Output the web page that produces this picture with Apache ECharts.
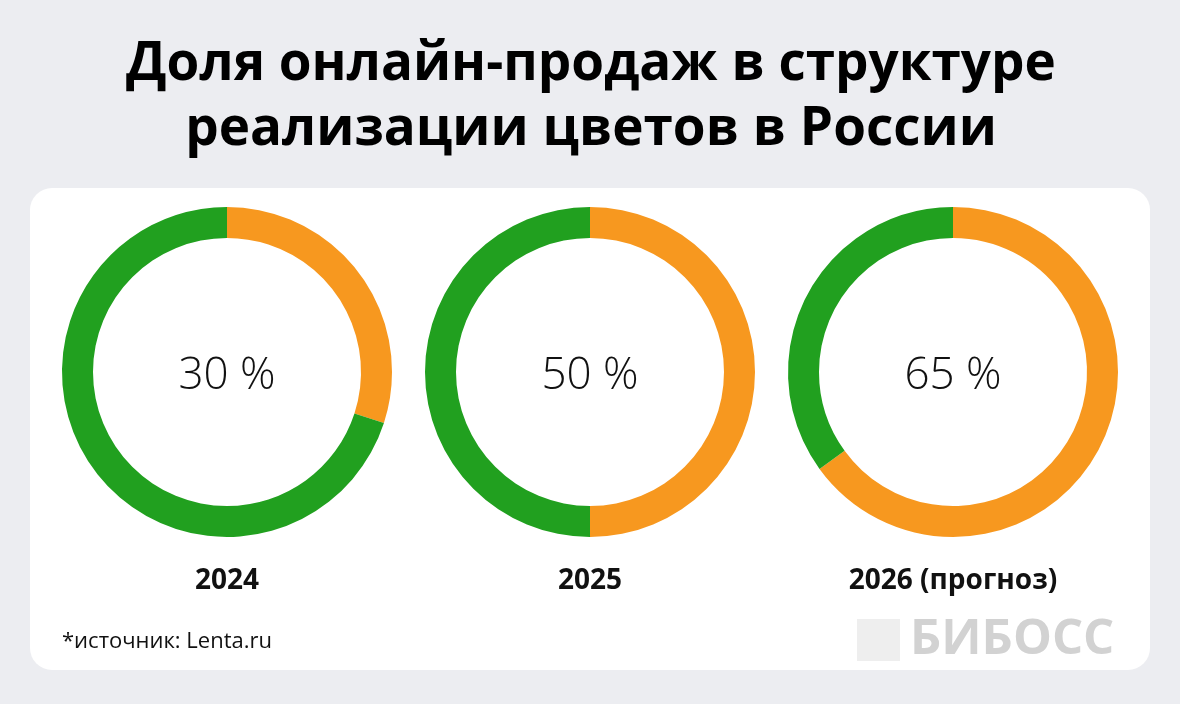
<!DOCTYPE html>
<html><head><meta charset="utf-8">
<script src="https://cdn.jsdelivr.net/npm/echarts@6/dist/echarts.min.js"></script>
<style>html,body{margin:0;padding:0;background:#ECEDF1;}#c{width:1180px;height:704px;}</style>
</head><body><div id="c"></div>
<script>
const years = ['2024', '2025', '2026 (прогноз)'];
const onlineShare = [30, 50, 65];
const offlineShare = [70, 50, 35];
const centersX = [227, 590, 953];

const chart = echarts.init(document.getElementById('c'), null, {renderer: 'canvas'});
const series = years.map((y, i) => ({
  type: 'pie',
  center: [centersX[i], 372],
  radius: [134, 165],
  startAngle: 90,
  clockwise: true,
  silent: true,
  label: {show: false},
  labelLine: {show: false},
  data: [
    {name: 'онлайн', value: onlineShare[i], itemStyle: {color: '#F7981F'}},
    {name: 'офлайн', value: offlineShare[i], itemStyle: {color: '#21A01F'}}
  ]
}));
const titles = [{
  text: 'Доля онлайн-продаж в структуре\nреализации цветов в России',
  left: 591, top: 32, textAlign: 'center', padding: 0,
  textStyle: {fontFamily: 'Open Sans', fontWeight: 'bold', fontSize: 53, lineHeight: 65, color: '#000'}
}];
years.forEach((y, i) => {
  titles.push({text: onlineShare[i] + ' %', left: centersX[i], top: 354, textAlign: 'center', padding: 0,
    textStyle: {fontFamily: 'Open Sans', fontWeight: 300, fontSize: 44, color: '#111'}});
  titles.push({text: y, left: centersX[i], top: 567, textAlign: 'center', padding: 0,
    textStyle: {fontFamily: 'Open Sans', fontWeight: 'bold', fontSize: 28, color: '#111'}});
});
titles.push({text: '*источник: Lenta.ru', left: 62, top: 631, padding: 0,
  textStyle: {fontFamily: 'Open Sans', fontWeight: 'normal', fontSize: 22, color: '#111'}});

chart.setOption({
  animation: false,
  backgroundColor: '#ECEDF1',
  graphic: [
    {type: 'rect', shape: {x: 30, y: 188, width: 1120, height: 482, r: 22}, style: {fill: '#fff'}, z: -10},
    {type: 'rect', shape: {x: 857, y: 619, width: 43, height: 42}, style: {fill: '#EEEEEE'}},
    {type: 'text', left: 910, top: 616, style: {text: 'БИБОСС', font: 'bold 49px "Open Sans"', fill: '#D2D2D2'}}
  ],
  title: titles,
  series: series
});
</script></body></html>
